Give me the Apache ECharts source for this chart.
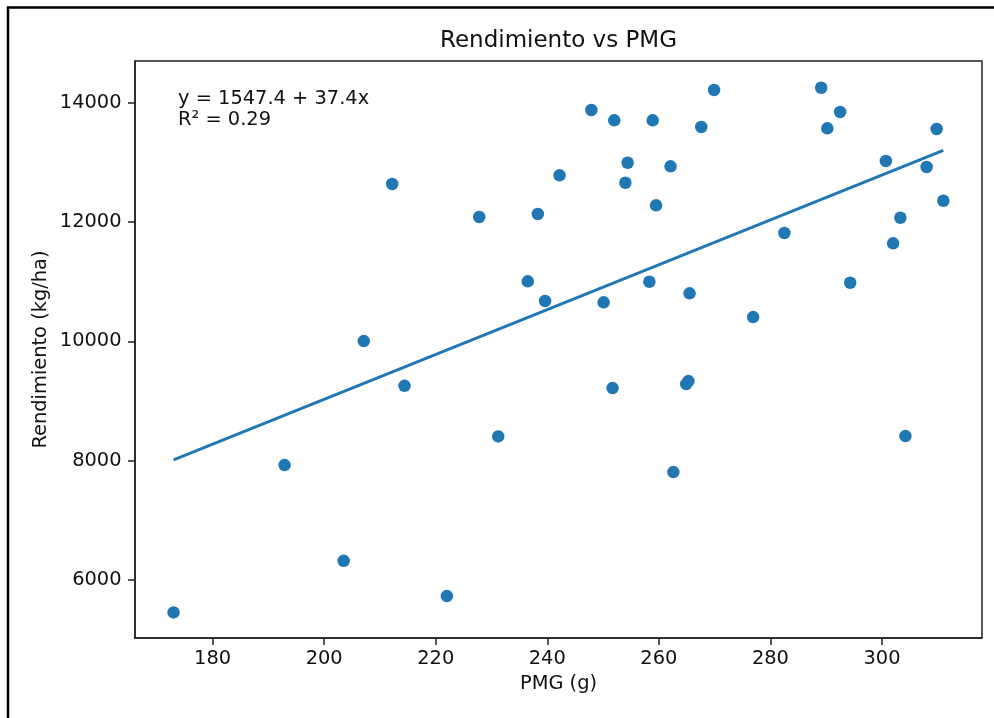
<!DOCTYPE html>
<html>
<head>
<meta charset="utf-8">
<script src="https://cdn.jsdelivr.net/npm/echarts@6/dist/echarts.min.js"></script>
<style>
html,body{margin:0;padding:0;background:#fff;}
#chart{width:994px;height:718px;}
</style>
</head>
<body>
<div id="chart"></div>
<script>
// PMG (g) values
const pmg = [173.0, 192.9, 203.5, 207.1, 212.2, 214.4, 222.0, 227.8, 231.2, 236.5,
             238.3, 239.6, 242.2, 247.9, 250.1, 251.7, 252.0, 254.0, 254.4, 258.3,
             258.9, 259.5, 262.1, 262.6, 264.9, 265.3, 265.5, 267.6, 269.9, 276.9,
             282.5, 289.1, 290.2, 292.5, 294.3, 300.7, 302.0, 303.3, 304.2, 308.0,
             309.8, 311.0];
// Rendimiento (kg/ha) values
const rendimiento = [5457, 7926, 6322, 10005, 12637, 9255, 5730, 12084, 8407, 11006,
                     12134, 10676, 12783, 13878, 10654, 9217, 13705, 12659, 12994, 10999,
                     13705, 12280, 12934, 7809, 9284, 9334, 10805, 13593, 14213, 10407,
                     11816, 14251, 13571, 13844, 10982, 13023, 11643, 12072, 8412, 12922,
                     13559, 12357];
// fitted line end points
const fitX = [173.0, 311.0];
const fitY = [8015, 13200];
const xTicks = [180, 200, 220, 240, 260, 280, 300];
const yTicks = [6000, 8000, 10000, 12000, 14000];
const titleText = 'Rendimiento vs PMG';
const xName = 'PMG (g)';
const yName = 'Rendimiento (kg/ha)';
const eqText = 'y = 1547.4 + 37.4x';
const r2Text = 'R² = 0.29';

const FONT = 'DejaVu Sans';
const C = '#1f77b4';
const chart = echarts.init(document.getElementById('chart'), null, {renderer: 'canvas'});

const scatterData = pmg.map((x, i) => [x, rendimiento[i]]);
const lineData = fitX.map((x, i) => [x, fitY[i]]);

const axisCommon = {
  axisLine: {show: true, onZero: false, lineStyle: {color: '#222', width: 1.5}},
  splitLine: {show: false},
};

chart.setOption({
  animation: false,
  backgroundColor: '#fff',
  grid: {left: 135, right: 12, top: 61, bottom: 80, show: true, borderColor: '#222', borderWidth: 1.5, backgroundColor: 'transparent'},
  xAxis: Object.assign({
    type: 'value', min: 166.09, max: 317.93,
    axisTick: {show: true, length: 7, lineStyle: {color: '#222', width: 1.5}, customValues: xTicks},
    axisLabel: {show: true, margin: 11, fontFamily: FONT, fontSize: 19.4, color: '#111', customValues: xTicks,
                formatter: v => String(v)},
  }, axisCommon),
  yAxis: Object.assign({
    type: 'value', min: 5028, max: 14699,
    axisTick: {show: true, length: 7, lineStyle: {color: '#222', width: 1.5}, customValues: yTicks},
    axisLabel: {show: true, margin: 13.5, fontFamily: FONT, fontSize: 19.4, color: '#111', customValues: yTicks,
                formatter: v => String(v)},
  }, axisCommon),
  series: [
    {type: 'scatter', data: scatterData, symbol: 'circle', symbolSize: 12.5, itemStyle: {color: C, opacity: 1}, z: 3},
    {type: 'line', data: lineData, symbol: 'none', lineStyle: {color: C, width: 2.9}, z: 2}
  ],
  graphic: [
    {type: 'polyline', shape: {points: [[8, 718], [8, 7.5], [994, 7.5]]}, style: {stroke: '#000', lineWidth: 2.5, fill: null}, silent: true},
    {type: 'text', x: 558.5, y: 40.8, style: {text: titleText, font: '23px "DejaVu Sans"', fill: '#111', align: 'center', verticalAlign: 'middle'}},
    {type: 'text', x: 178, y: 98.9, style: {text: eqText, font: '19.4px "DejaVu Sans"', fill: '#111', align: 'left', verticalAlign: 'middle'}},
    {type: 'text', x: 178, y: 119.9, style: {text: r2Text, font: '19.4px "DejaVu Sans"', fill: '#111', align: 'left', verticalAlign: 'middle'}},
    {type: 'text', x: 558.5, y: 684, style: {text: xName, font: '19.4px "DejaVu Sans"', fill: '#111', align: 'center', verticalAlign: 'middle'}},
    {type: 'text', x: 41, y: 349.5, rotation: Math.PI / 2, style: {text: yName, font: '19.4px "DejaVu Sans"', fill: '#111', align: 'center', verticalAlign: 'middle'}}
  ]
});
</script>
</body>
</html>
